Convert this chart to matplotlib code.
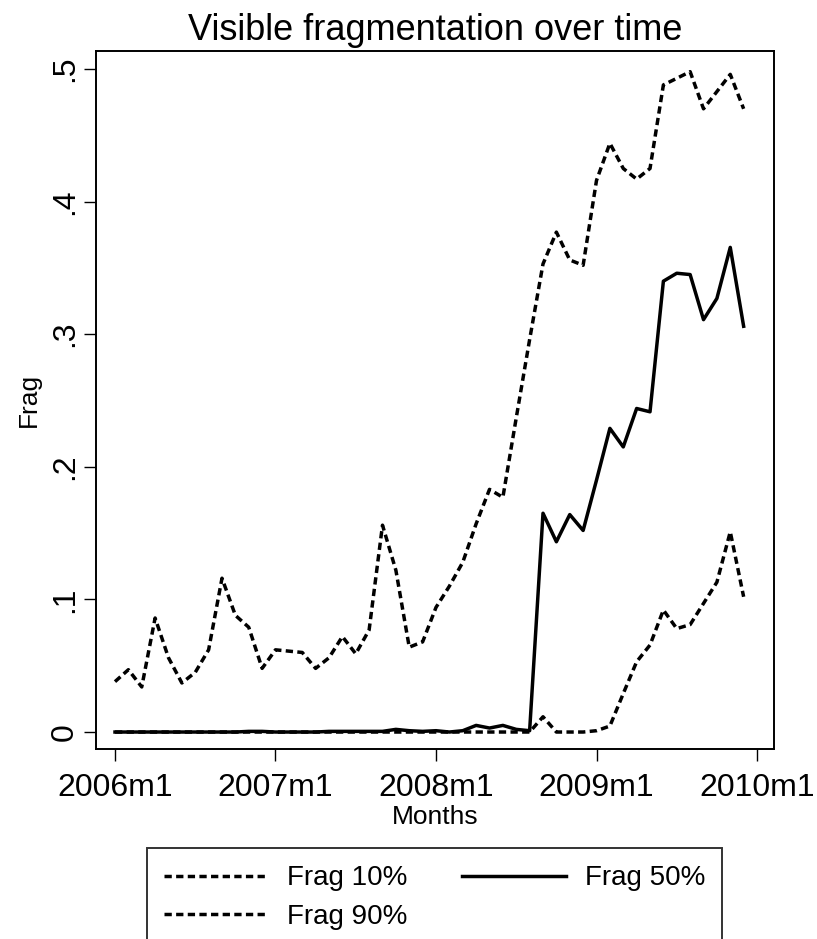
import matplotlib
matplotlib.use("Agg")
import matplotlib.pyplot as plt
import numpy as np

plt.rcParams['font.family'] = ['Liberation Sans', 'DejaVu Sans']

# Months 2006m1 .. 2009m12 (index 0 = 2006m1)
months = list(range(48))

frag10 = [0.0, 0.0, 0.0, 0.0, 0.0, 0.0, 0.0, 0.0, 0.0, 0.0, 0.0, 0.0,
          0.0, 0.0, 0.0, 0.0, 0.0, 0.0, 0.0, 0.0, 0.0, 0.0, 0.0, 0.0,
          0.0, 0.0, 0.0, 0.0, 0.0, 0.0, 0.0, 0.0, 0.0115, 0.0, 0.0, 0.0,
          0.001, 0.0045, 0.029, 0.053, 0.0656, 0.092, 0.078, 0.081, 0.097, 0.113, 0.151, 0.102]

frag50 = [0.0, 0.0, 0.0, 0.0, 0.0, 0.0, 0.0, 0.0, 0.0, 0.0, 0.0005, 0.0005,
          0.0, 0.0, 0.0, 0.0, 0.0005, 0.0005, 0.0005, 0.0005, 0.0005, 0.002, 0.001, 0.0005,
          0.001, 0.0, 0.001, 0.005, 0.003, 0.005, 0.002, 0.001, 0.165, 0.1435, 0.164, 0.152,
          0.19, 0.229, 0.215, 0.244, 0.2415, 0.340, 0.346, 0.345, 0.311, 0.327, 0.3655, 0.306]

frag90 = [0.038, 0.047, 0.034, 0.086, 0.056, 0.037, 0.045, 0.062, 0.116, 0.088, 0.079, 0.048,
          0.062, 0.061, 0.060, 0.048, 0.056, 0.072, 0.059, 0.077, 0.156, 0.122, 0.064, 0.068,
          0.094, 0.110, 0.128, 0.157, 0.183, 0.177, 0.237, 0.296, 0.353, 0.377, 0.356, 0.352,
          0.416, 0.444, 0.425, 0.417, 0.425, 0.488, 0.493, 0.498, 0.470, 0.483, 0.496, 0.470]

xtick_pos = [0, 12, 24, 36, 48]
xtick_labels = ["2006m1", "2007m1", "2008m1", "2009m1", "2010m1"]
ytick_pos = [0, 0.1, 0.2, 0.3, 0.4, 0.5]
ytick_labels = ["0", ".1", ".2", ".3", ".4", ".5"]

W, H = 817, 939
fig = plt.figure(figsize=(W / 100, H / 100), dpi=100)
fig.patch.set_facecolor('white')

L, R, T, B = 96, 774, 51, 749
ax = fig.add_axes([L / W, 1 - B / H, (R - L) / W, (B - T) / H])

lw = 2.5
dash = (0, (2.1, 1.25))
l10, = ax.plot(months, frag10, color='black', lw=lw, linestyle=dash, label='Frag 10%')
l50, = ax.plot(months, frag50, color='black', lw=lw, linestyle='-', label='Frag 50%')
l90, = ax.plot(months, frag90, color='black', lw=lw, linestyle=dash, label='Frag 90%')

ax.set_xlim(-1.42, 49.27)
ax.set_ylim(-0.0128, 0.5136)

ax.set_xticks(xtick_pos)
ax.set_xticklabels(xtick_labels, fontsize=23)
ax.set_yticks(ytick_pos)
ax.set_yticklabels(ytick_labels, fontsize=23, rotation=90, va='center')
ax.tick_params(axis='both', direction='out', length=8.5, width=1.0, color='black')
ax.tick_params(axis='x', pad=9)
ax.tick_params(axis='y', pad=3)

for s in ax.spines.values():
    s.set_linewidth(1.4)
    s.set_color('black')

ax.set_xlabel('Months', fontsize=19)
ax.xaxis.set_label_coords(0.5, (749 - 805) / 698)
ax.set_ylabel('Frag', fontsize=19)
ax.yaxis.set_label_coords((41 - 96) / 678, 0.5)

fig.text(435 / W, 1 - 40 / H, 'Visible fragmentation over time', fontsize=26,
         ha='center', va='baseline')

leg = fig.legend([l10, l90, l50], ['Frag 10%', 'Frag 90%', 'Frag 50%'],
                 ncol=2, loc='upper left',
                 bbox_to_anchor=(147 / W, 1 - 848 / H),
                 fontsize=20, frameon=True, fancybox=False, edgecolor='black',
                 handlelength=3.75, handletextpad=0.68, columnspacing=1.95,
                 borderpad=0.62, labelspacing=0.45, borderaxespad=0)
leg.get_frame().set_linewidth(1.4)

fig.savefig('out.png', dpi=100, facecolor='white')
